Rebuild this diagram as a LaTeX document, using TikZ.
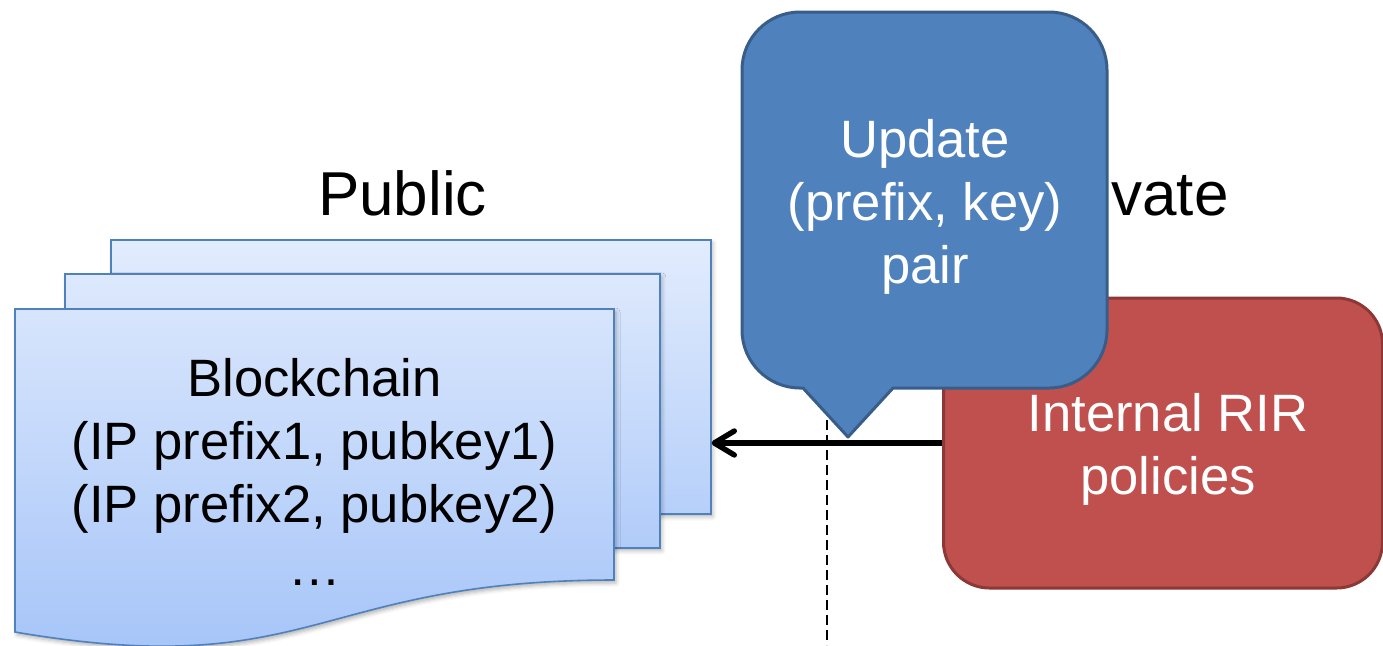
\documentclass[tikz,border=0pt]{standalone}
\usepackage{fontspec}
\setmainfont{Liberation Sans}
\usetikzlibrary{arrows.meta,shadows.blur}

\definecolor{sheetTop}{RGB}{226,236,253}
\definecolor{sheetBot}{RGB}{162,194,248}
\definecolor{sheetLine}{RGB}{79,129,189}
\definecolor{calloutFill}{RGB}{79,129,189}
\definecolor{calloutLine}{RGB}{56,93,138}
\definecolor{policyFill}{RGB}{192,80,77}
\definecolor{policyLine}{RGB}{140,56,54}

\tikzset{
  sheet/.style={draw=sheetLine, line width=0.8pt,
    blur shadow={shadow xshift=1pt, shadow yshift=-1.5pt,
                 shadow blur radius=2pt, shadow opacity=30}},
  bigtext/.style={font=\fontsize{26.3pt}{31.5pt}\selectfont, align=center, inner sep=0pt},
  sidelabel/.style={font=\fontsize{31pt}{37pt}\selectfont, inner sep=0pt},
  bubble/.style={fill=calloutFill, draw=calloutLine, line width=1.5pt, line join=round},
  policybox/.style={rectangle, rounded corners=23pt, fill=policyFill,
                    draw=policyLine, line width=1.5pt},
  flowarrow/.style={line width=2.7pt, -{Straight Barb[length=10pt,width=12pt,round]}},
  divider/.style={line width=1pt, dash pattern=on 5pt off 2.5pt},
}

\begin{document}
\begin{tikzpicture}[x=0.5pt,y=-0.5pt]
\useasboundingbox (0,0) rectangle (1383,645);

% side headings
\node[sidelabel, anchor=base] (public) at (402.5,215) {Public};
\node[sidelabel, anchor=base east] (private) at (1229,215) {Private};

% stack of ledger sheets
\node[sheet, rectangle, anchor=north west, minimum width=300pt, minimum height=137pt,
      top color=sheetTop, bottom color=sheetBot!68!sheetTop] (back) at (110,239) {};
\node[sheet, rectangle, anchor=north west, minimum width=297.5pt, minimum height=137pt,
      top color=sheetBot!8!sheetTop, bottom color=sheetBot!76!sheetTop] (middle) at (64,273) {};
\path[sheet, top color=sheetBot!17!sheetTop, bottom color=sheetBot]
  (15,309) -- (614,309) -- (614,580)
  .. controls (314,580) and (314,683) .. (15,632) -- cycle;
\node[bigtext] (chain) at (314.5,472)
  {Blockchain\\(IP prefix1, pubkey1)\\(IP prefix2, pubkey2)\\…};

% public / private boundary
\coordinate (cutTop) at (827,390);
\coordinate (cutBot) at (827,645);
\draw[divider] (cutTop) -- (cutBot);

% registry side
\node[policybox, minimum width=219.5pt, minimum height=145pt] (policy) at (1163,443) {};
\node[bigtext, text=white] (policytext) at (1168,449) {Internal RIR\\policies};

\draw[flowarrow] (policy.west) -- (policy.west -| back.east);

% update callout
\path[bubble]
  (742,70) .. controls (742,38) and (768,12) .. (800,12)
  -- (1049,12) .. controls (1081,12) and (1107,38) .. (1107,70)
  -- (1107,330) .. controls (1107,362) and (1081,388) .. (1049,388)
  -- (893,388) -- (848,437) -- (803,388)
  -- (800,388) .. controls (768,388) and (742,362) .. (742,330) -- cycle;
\node[bigtext, text=white] (update) at (925,206.5) {Update\\(prefix, key)\\pair};
\end{tikzpicture}
\end{document}
